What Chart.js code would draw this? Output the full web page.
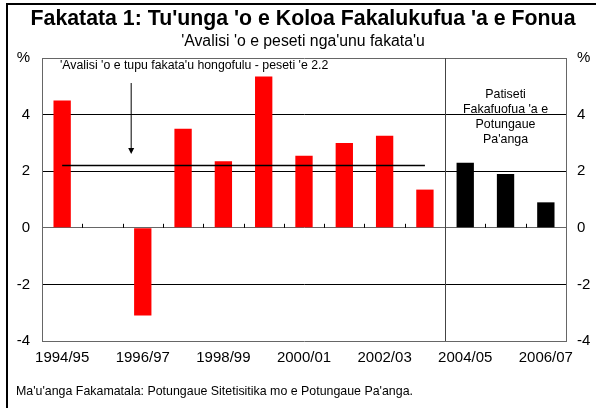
<!DOCTYPE html>
<html lang="to">
<head>
    <meta charset="UTF-8">
    <title>Fakatata 1</title>
    <script src="https://cdn.jsdelivr.net/npm/chart.js"></script>
    <style>
        body { margin: 0; background: #fff; }
        #wrap { position: relative; width: 596px; height: 408px; }
        #frame { position: absolute; left: 6px; top: 3px; right: 0; bottom: 0;
                 border-top: 2.5px solid #000; border-left: 2.5px solid #000; pointer-events: none; }
    </style>
</head>
<body>
<div id="wrap">
    <canvas id="myChart" width="596" height="408"></canvas>
    <div id="frame"></div>
</div>
<script>
    // data
    const years = ['1994/95', '1995/96', '1996/97', '1997/98', '1998/99', '1999/00', '2000/01',
                   '2001/02', '2002/03', '2003/04', '2004/05', '2005/06', '2006/07'];
    const growth = [4.5, null, -3.1, 3.5, 2.35, 5.35, 2.55, 3.0, 3.25, 1.35, 2.3, 1.9, 0.9];
    const avgLine = [2.2, 2.2, 2.2, 2.2, 2.2, 2.2, 2.2, 2.2, 2.2, 2.2, null, null, null];
    const firstForecast = '2004/05';
    const yTicks = [-4, -2, 0, 2, 4, 6];

    const forecastIdx = years.indexOf(firstForecast);
    const barColors = years.map((y, i) => i >= forecastIdx ? '#000000' : '#ff0000');
    const FONT = 'Liberation Sans, Arial, sans-serif';

    // drawing extras: zero-line ticks, divider, notes, footer
    const extras = {
        id: 'extras',
        afterDatasetsDraw(chart) {
            const c = chart.ctx, x = chart.scales.x, y = chart.scales.y, a = chart.chartArea;
            const y0 = y.getPixelForValue(0);
            c.save();
            c.strokeStyle = '#000';
            c.lineWidth = 1;
            for (let i = 1; i < years.length; i++) {
                const bx = Math.round((x.getPixelForValue(i - 1) + x.getPixelForValue(i)) / 2) + 0.5;
                c.beginPath(); c.moveTo(bx, y0 - 4); c.lineTo(bx, y0); c.stroke();
            }
            // forecast divider
            const dx = Math.round((x.getPixelForValue(forecastIdx - 1) + x.getPixelForValue(forecastIdx)) / 2) + 0.5;
            c.strokeStyle = '#444';
            c.beginPath(); c.moveTo(dx, a.top); c.lineTo(dx, a.bottom); c.stroke();

            // average note + arrow
            c.fillStyle = '#000';
            c.font = '12.3px ' + FONT;
            c.textAlign = 'left'; c.textBaseline = 'middle';
            c.fillText("'Avalisi 'o e tupu fakata'u hongofulu - peseti 'e 2.2", 60, a.top + 8);
            const ax = x.getPixelForValue(1.7) + 0.5;
            c.strokeStyle = '#000';
            c.beginPath(); c.moveTo(ax, a.top + 25); c.lineTo(ax, a.top + 91); c.stroke();
            c.beginPath(); c.moveTo(ax - 3, a.top + 90); c.lineTo(ax + 3, a.top + 90); c.lineTo(ax, a.top + 96); c.closePath(); c.fill();

            // forecast note
            c.font = '12.4px ' + FONT;
            c.textAlign = 'center';
            const nx = x.getPixelForValue(forecastIdx + 1);
            ['Patiseti', "Fakafuofua 'a e", 'Potungaue', "Pa'anga"].forEach((t, i) => {
                c.fillText(t, nx, a.top + 37 + i * 15);
            });

            // source
            c.font = '12.4px ' + FONT;
            c.textAlign = 'left';
            c.fillText("Ma'u'anga Fakamatala: Potungaue Sitetisitika mo e Potungaue Pa'anga.", 16, 392);
            c.restore();
        }
    };

    const yTickCb = v => v === 6 ? '%' : String(v);
    const gridColor = ctx => {
        const v = ctx.tick && ctx.tick.value;
        if (v === 0 || v === 6) return '#666';
        if (v === -4) return 'rgba(0,0,0,0)';
        return '#000';
    };

    const ctx = document.getElementById('myChart').getContext('2d');
    new Chart(ctx, {
        data: {
            labels: years,
            datasets: [{
                type: 'line',
                data: avgLine,
                borderColor: '#000',
                borderWidth: 1.6,
                pointRadius: 0,
                spanGaps: false,
                order: 0
            }, {
                type: 'bar',
                data: growth,
                backgroundColor: barColors,
                barPercentage: 0.43,
                categoryPercentage: 1,
                order: 1
            }]
        },
        options: {
            responsive: false,
            animation: false,
            layout: { padding: { top: 4.5, left: 10, right: 0, bottom: 30 } },
            plugins: {
                legend: { display: false },
                tooltip: { enabled: false },
                title: {
                    display: true,
                    text: "Fakatata 1: Tu'unga 'o e Koloa Fakalukufua 'a e Fonua",
                    color: '#000',
                    font: { family: FONT, size: 21.3, weight: 'bold', lineHeight: 1.2 },
                    padding: { top: 2, bottom: 0 }
                },
                subtitle: {
                    display: true,
                    text: "'Avalisi 'o e peseti nga'unu fakata'u",
                    color: '#000',
                    font: { family: FONT, size: 15.8, lineHeight: 1.2 },
                    padding: { top: 0, bottom: 7 }
                }
            },
            scales: {
                x: {
                    grid: { display: false, drawTicks: false },
                    border: { display: true, color: '#666' },
                    ticks: {
                        color: '#000',
                        font: { family: FONT, size: 15 },
                        autoSkip: false,
                        maxRotation: 0,
                        padding: 8,
                        callback: (v, i) => i % 2 === 0 ? years[i] : ''
                    },
                    afterFit: s => { s.height = 37; }
                },
                y: {
                    min: -4, max: 6,
                    afterBuildTicks: s => { s.ticks = yTicks.map(v => ({ value: v })); },
                    grid: { color: gridColor, lineWidth: 1, drawTicks: false },
                    border: { display: true, color: '#666' },
                    ticks: { color: '#000', font: { family: FONT, size: 15 }, padding: 12, callback: yTickCb },
                    afterFit: s => { s.width = 32; }
                },
                y2: {
                    position: 'right',
                    min: -4, max: 6,
                    afterBuildTicks: s => { s.ticks = yTicks.map(v => ({ value: v })); },
                    grid: { display: false, drawTicks: false },
                    border: { display: true, color: '#666' },
                    ticks: { color: '#000', font: { family: FONT, size: 15 }, padding: 11, callback: yTickCb },
                    afterFit: s => { s.width = 30; }
                }
            }
        },
        plugins: [extras]
    });
</script>
</body>
</html>
